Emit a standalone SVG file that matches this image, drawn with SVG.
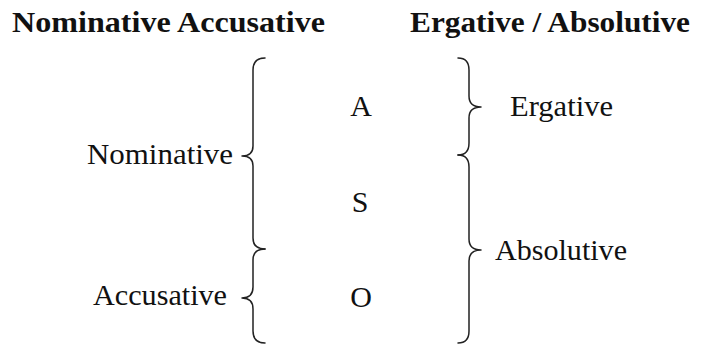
<svg xmlns="http://www.w3.org/2000/svg" width="701" height="346" viewBox="0 0 701 346">
<style>
text{font-family:"Liberation Serif","Times New Roman",serif;font-size:30px;fill:#111}
.h{font-weight:bold}
.br{fill:none;stroke:#222;stroke-width:1.5;stroke-linecap:round;stroke-linejoin:round}
</style>
<rect width="701" height="346" fill="#fff"/>
<g id="header-left"><text class="h" x="12" y="32" textLength="313" lengthAdjust="spacingAndGlyphs">Nominative Accusative</text></g>
<g id="header-right"><text class="h" x="410" y="32" textLength="280" lengthAdjust="spacingAndGlyphs">Ergative / Absolutive</text></g>
<g id="node-A"><text x="361" y="116" text-anchor="middle">A</text></g>
<g id="node-S"><text x="360" y="212" text-anchor="middle">S</text></g>
<g id="node-O"><text x="361" y="307" text-anchor="middle">O</text></g>
<g id="node-nominative"><text x="87" y="164" textLength="146" lengthAdjust="spacingAndGlyphs">Nominative</text></g>
<g id="node-accusative"><text x="93" y="305" textLength="134" lengthAdjust="spacingAndGlyphs">Accusative</text></g>
<g id="node-ergative"><text x="510" y="116" textLength="103" lengthAdjust="spacingAndGlyphs">Ergative</text></g>
<g id="node-absolutive"><text x="495" y="260" textLength="132" lengthAdjust="spacingAndGlyphs">Absolutive</text></g>
<g id="connectors">
<path class="br" d="M265 58 Q253 58 253 70 L253 146 Q253 156 242 156 Q253 156 253 166 L253 238 Q253 249 265 249"/>
<path class="br" d="M265 249 Q253 249 253 260 L253 287 Q253 298 242 298 Q253 298 253 309 L253 331 Q253 343 265 343"/>
<path class="br" d="M458 58 Q469 58 469 70 L469 96 Q469 107 481 107 Q469 107 469 118 L469 143 Q469 155 458 155"/>
<path class="br" d="M458 155 Q469 155 469 167 L469 239 Q469 250 481 250 Q469 250 469 261 L469 331 Q469 343 458 343"/>
</g>
</svg>
